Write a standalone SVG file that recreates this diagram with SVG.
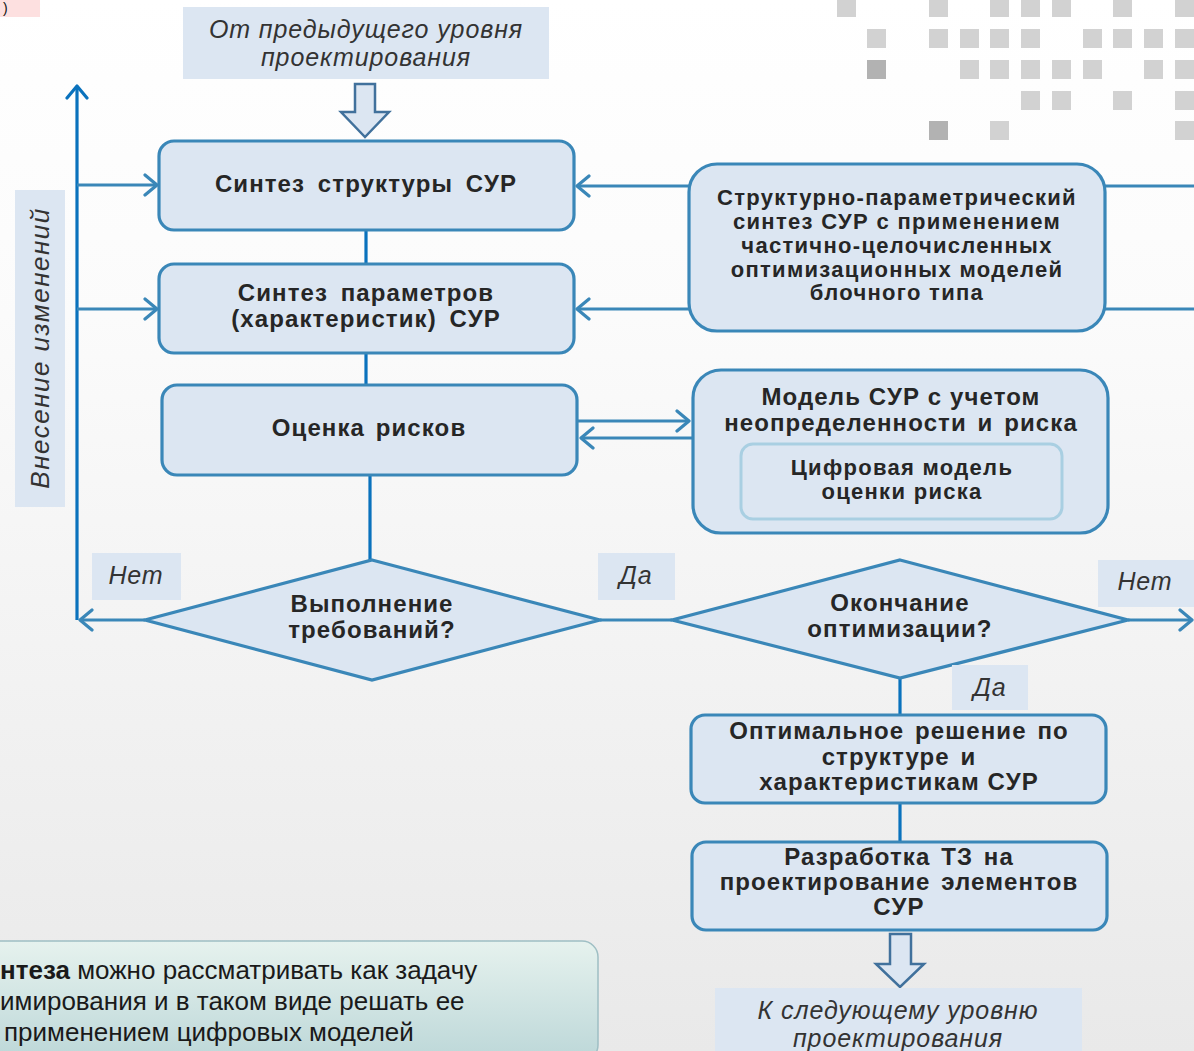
<svg xmlns="http://www.w3.org/2000/svg" width="1194" height="1051" viewBox="0 0 1194 1051">
<defs>
<linearGradient id="bg" x1="0" y1="0" x2="0" y2="1">
<stop offset="0" stop-color="#ffffff"/>
<stop offset="0.3" stop-color="#fbfbfb"/>
<stop offset="1" stop-color="#e9e9e9"/>
</linearGradient>
<linearGradient id="note" x1="0" y1="0" x2="0" y2="1">
<stop offset="0" stop-color="#e6f2ee"/>
<stop offset="1" stop-color="#bcd7d8"/>
</linearGradient>
<marker id="ah" viewBox="0 0 16 24" refX="14" refY="12" markerWidth="16" markerHeight="24" markerUnits="userSpaceOnUse" orient="auto">
<path d="M2,2 L14,12 L2,22" fill="none" stroke="#3a87b8" stroke-width="3.2" stroke-linecap="round" stroke-linejoin="round"/>
</marker>
<marker id="ahb" viewBox="0 0 16 24" refX="14" refY="12" markerWidth="16" markerHeight="24" markerUnits="userSpaceOnUse" orient="auto">
<path d="M2,2 L14,12 L2,22" fill="none" stroke="#0a72bd" stroke-width="3.2" stroke-linecap="round" stroke-linejoin="round"/>
</marker>
</defs>
<style>
.node{fill:#dce6f2;stroke:#3a87b8;stroke-width:3.2}
.lbl{fill:#dce6f2}
.t{font-family:"Liberation Sans",Arial,sans-serif;font-weight:bold;font-size:24px;letter-spacing:1.1px;fill:#262626;text-anchor:middle}
.ts{font-size:22px;letter-spacing:1.3px}
.it{font-family:"Liberation Sans",Arial,sans-serif;font-style:italic;font-size:25px;letter-spacing:0.9px;fill:#333333;text-anchor:middle}
.c{fill:none;stroke:#3a87b8;stroke-width:3.2}
.cb{fill:none;stroke:#0a72bd;stroke-width:3.2}
.blk{fill:#dce6f2;stroke:#41719c;stroke-width:2.5;stroke-linejoin:miter}
.sq{fill:#d2d2d2}
.sqd{fill:#b2b2b2}
.nt{font-family:"Liberation Sans",Arial,sans-serif;font-size:26px;fill:#1a1a1a}
</style>
<rect x="0" y="0" width="1194" height="1051" fill="url(#bg)"/>

<g id="decor">
<rect x="0" y="0" width="40" height="17" fill="#fde0e0"/>
<text x="3" y="13" font-family="Liberation Sans, Arial, sans-serif" font-size="14" fill="#111">)</text>
<g>
<rect class="sq" x="837" y="-2" width="19" height="19"/>
<rect class="sq" x="929" y="-2" width="19" height="19"/>
<rect class="sq" x="990" y="-2" width="19" height="19"/>
<rect class="sq" x="1021" y="-2" width="19" height="19"/>
<rect class="sq" x="1052" y="-2" width="19" height="19"/>
<rect class="sq" x="1113" y="-2" width="19" height="19"/>
<rect class="sq" x="1175" y="-2" width="19" height="19"/>
<rect class="sq" x="867" y="29" width="19" height="19"/>
<rect class="sq" x="929" y="29" width="19" height="19"/>
<rect class="sq" x="960" y="29" width="19" height="19"/>
<rect class="sq" x="990" y="29" width="19" height="19"/>
<rect class="sq" x="1021" y="29" width="19" height="19"/>
<rect class="sq" x="1083" y="29" width="19" height="19"/>
<rect class="sq" x="1113" y="29" width="19" height="19"/>
<rect class="sq" x="1144" y="29" width="19" height="19"/>
<rect class="sq" x="1175" y="29" width="19" height="19"/>
<rect class="sqd" x="867" y="60" width="19" height="19"/>
<rect class="sq" x="960" y="60" width="19" height="19"/>
<rect class="sq" x="990" y="60" width="19" height="19"/>
<rect class="sq" x="1021" y="60" width="19" height="19"/>
<rect class="sq" x="1052" y="60" width="19" height="19"/>
<rect class="sq" x="1083" y="60" width="19" height="19"/>
<rect class="sq" x="1144" y="60" width="19" height="19"/>
<rect class="sq" x="1175" y="60" width="19" height="19"/>
<rect class="sq" x="1021" y="91" width="19" height="19"/>
<rect class="sq" x="1052" y="91" width="19" height="19"/>
<rect class="sq" x="1113" y="91" width="19" height="19"/>
<rect class="sq" x="1175" y="91" width="19" height="19"/>
<rect class="sqd" x="929" y="121" width="19" height="19"/>
<rect class="sq" x="990" y="121" width="19" height="19"/>
<rect class="sq" x="1175" y="121" width="19" height="19"/>
</g>
</g>

<g id="connectors">
<polyline class="cb" points="77,620 77,86" marker-end="url(#ahb)"/>
<line class="c" x1="77" y1="185" x2="157" y2="185" marker-end="url(#ah)"/>
<line class="c" x1="77" y1="309" x2="157" y2="309" marker-end="url(#ah)"/>
<line class="cb" x1="366" y1="230" x2="366" y2="264"/>
<line class="cb" x1="366" y1="353" x2="366" y2="385"/>
<line class="cb" x1="370" y1="475" x2="370" y2="560"/>
<line class="c" x1="689" y1="186" x2="577" y2="186" marker-end="url(#ah)"/>
<line class="c" x1="689" y1="309" x2="577" y2="309" marker-end="url(#ah)"/>
<line class="c" x1="1105" y1="186" x2="1194" y2="186"/>
<line class="c" x1="1105" y1="309" x2="1194" y2="309"/>
<line class="c" x1="577" y1="421" x2="689" y2="421" marker-end="url(#ah)"/>
<line class="c" x1="693" y1="438" x2="581" y2="438" marker-end="url(#ah)"/>
<line class="c" x1="145" y1="620" x2="80" y2="620" marker-end="url(#ah)"/>
<line class="c" x1="600" y1="620" x2="672" y2="620"/>
<line class="c" x1="1128" y1="620" x2="1192" y2="620" marker-end="url(#ah)"/>
<line class="cb" x1="900" y1="678" x2="900" y2="715"/>
<line class="cb" x1="900" y1="803" x2="900" y2="842"/>
<polygon class="blk" points="355,84 375,84 375,112 389,112 365,137 341,112 355,112"/>
<polygon class="blk" points="890,934 911,934 911,964 924,964 900,987 876,964 890,964"/>
</g>

<g id="from-prev">
<rect class="lbl" x="183" y="7" width="366" height="72"/>
<text class="it" x="366" y="38">От предыдущего уровня</text>
<text class="it" x="366" y="66">проектирования</text>
</g>

<g id="changes-label">
<rect class="lbl" x="15" y="190" width="50" height="317"/>
<text class="it" transform="translate(49,348) rotate(-90)" x="0" y="0" style="font-size:26px;letter-spacing:1.5px">Внесение изменений</text>
</g>

<g id="synth-structure">
<rect class="node" x="159" y="141" width="415" height="89" rx="15"/>
<text class="t" x="366" y="192" word-spacing="5">Синтез структуры СУР</text>
</g>

<g id="synth-params">
<rect class="node" x="159" y="264" width="415" height="89" rx="15"/>
<text class="t" x="366" y="301" word-spacing="5">Синтез параметров</text>
<text class="t" x="366" y="327" word-spacing="5">(характеристик) СУР</text>
</g>

<g id="risk-eval">
<rect class="node" x="162" y="385" width="415" height="90" rx="15"/>
<text class="t" x="369" y="436" word-spacing="3">Оценка рисков</text>
</g>

<g id="struct-param">
<rect class="node" x="689" y="164" width="416" height="167" rx="28"/>
<text class="t ts" x="897" y="205">Структурно-параметрический</text>
<text class="t ts" x="897" y="229">синтез СУР с применением</text>
<text class="t ts" x="897" y="253">частично-целочисленных</text>
<text class="t ts" x="897" y="277">оптимизационных моделей</text>
<text class="t ts" x="897" y="300">блочного типа</text>
</g>

<g id="risk-model">
<rect class="node" x="693" y="370" width="415" height="163" rx="28"/>
<text class="t" x="901" y="405">Модель СУР с учетом</text>
<text class="t" x="901" y="431" word-spacing="3">неопределенности и риска</text>
<g id="digital-model">
<rect x="741" y="444" width="321" height="75" rx="12" fill="#dce6f2" stroke="#a9cfe2" stroke-width="3"/>
<text class="t ts" x="902" y="475">Цифровая модель</text>
<text class="t ts" x="902" y="499">оценки риска</text>
</g>
</g>

<g id="req-check">
<polygon class="node" points="372,560 600,620 372,680 145,620"/>
<text class="t" x="372" y="612">Выполнение</text>
<text class="t" x="372" y="638">требований?</text>
</g>

<g id="opt-end">
<polygon class="node" points="900,560 1128,620 900,678 672,620"/>
<text class="t" x="900" y="611">Окончание</text>
<text class="t" x="900" y="637">оптимизации?</text>
</g>

<g id="label-no-left">
<rect class="lbl" x="92" y="553" width="89" height="47"/>
<text class="it" x="136" y="584">Нет</text>
</g>
<g id="label-yes-mid">
<rect class="lbl" x="598" y="553" width="77" height="47"/>
<text class="it" x="636" y="584">Да</text>
</g>
<g id="label-no-right">
<rect class="lbl" x="1098" y="560" width="96" height="47"/>
<text class="it" x="1145" y="590">Нет</text>
</g>
<g id="label-yes-bottom">
<rect class="lbl" x="952" y="665" width="76" height="45"/>
<text class="it" x="990" y="696">Да</text>
</g>

<g id="optimal">
<rect class="node" x="691" y="715" width="415" height="88" rx="14"/>
<text class="t" x="899" y="739" word-spacing="3">Оптимальное решение по</text>
<text class="t" x="899" y="765" word-spacing="3">структуре и</text>
<text class="t" x="899" y="790">характеристикам СУР</text>
</g>

<g id="tz">
<rect class="node" x="692" y="842" width="415" height="88" rx="14"/>
<text class="t" x="899" y="865" word-spacing="3">Разработка ТЗ на</text>
<text class="t" x="899" y="890" word-spacing="3">проектирование элементов</text>
<text class="t" x="899" y="915">СУР</text>
</g>

<g id="to-next">
<rect class="lbl" x="715" y="988" width="367" height="70"/>
<text class="it" x="898" y="1019">К следующему уровню</text>
<text class="it" x="898" y="1047">проектирования</text>
</g>

<g id="note-box">
<rect x="-20" y="941" width="618" height="120" rx="16" fill="url(#note)" stroke="#9fbfc4" stroke-width="1.5"/>
<text class="nt" x="0" y="979"><tspan font-weight="bold">нтеза</tspan> можно рассматривать как задачу</text>
<text class="nt" x="0" y="1010">имирования и в таком виде решать ее</text>
<text class="nt" x="4" y="1041">применением цифровых моделей</text>
</g>
</svg>
